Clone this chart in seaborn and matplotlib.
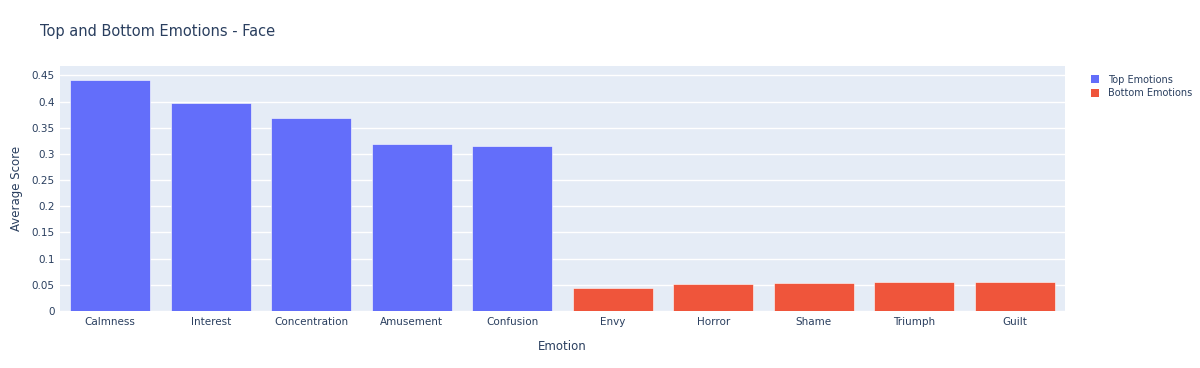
import matplotlib
matplotlib.use("Agg")
import matplotlib.pyplot as plt
import matplotlib.patches as mpatches
from matplotlib.ticker import FuncFormatter, MultipleLocator
import pandas as pd
import seaborn as sns

# values
top_emotions = ["Calmness", "Interest", "Concentration", "Amusement", "Confusion"]
top_scores = [0.441, 0.398, 0.368, 0.318, 0.316]
bottom_emotions = ["Envy", "Horror", "Shame", "Triumph", "Guilt"]
bottom_scores = [0.0437, 0.0508, 0.0533, 0.0552, 0.0558]
groups = ["Top Emotions", "Bottom Emotions"]
colors = ["#636EFA", "#EF553B"]

df = pd.DataFrame({
    "Emotion": top_emotions + bottom_emotions,
    "Average Score": top_scores + bottom_scores,
    "Group": [groups[0]] * len(top_emotions) + [groups[1]] * len(bottom_emotions),
})

text_color = "#2a3f5f"
sns.set_style("white")
plt.rcParams["font.family"] = ["DejaVu Sans"]

fig = plt.figure(figsize=(12, 3.68), dpi=100)
ax = fig.add_axes([0.05, 0.155, 0.8375, 0.665])
ax.set_facecolor("#E5ECF6")

sns.barplot(data=df, x="Emotion", y="Average Score", hue="Group",
            palette=dict(zip(groups, colors)), dodge=False, width=0.8,
            saturation=1, edgecolor="white", linewidth=0.4, ax=ax, legend=False)

ax.set_ylim(0, 0.4675)
ax.set_xlim(-0.5, len(df) - 0.5)
ax.yaxis.set_major_locator(MultipleLocator(0.05))
ax.yaxis.set_major_formatter(FuncFormatter(lambda v, p: f"{round(v, 2):g}"))
ax.grid(axis="y", color="white", linewidth=1)
ax.set_axisbelow(True)
for s in ax.spines.values():
    s.set_visible(False)
ax.tick_params(axis="both", length=0, labelsize=7.5, colors=text_color, pad=4)
ax.set_xlabel("Emotion", fontsize=8.5, color=text_color, labelpad=10)
ax.set_ylabel("Average Score", fontsize=8.5, color=text_color, labelpad=6)

fig.text(0.033, 0.915, "Top and Bottom Emotions - Face", fontsize=10.5,
         color=text_color, va="center", ha="left")

handles = [mpatches.Patch(facecolor=c, edgecolor="none", label=g) for g, c in zip(groups, colors)]
fig.legend(handles=handles, loc="upper left", bbox_to_anchor=(0.906, 0.808),
           frameon=False, fontsize=7, labelcolor=text_color, handlelength=0.8,
           handleheight=0.8, handletextpad=0.9, labelspacing=0.4, borderaxespad=0)

plt.savefig("out.png", dpi=100)
plt.close()
